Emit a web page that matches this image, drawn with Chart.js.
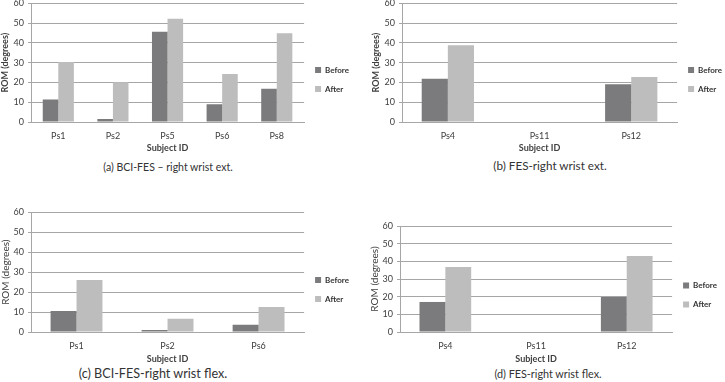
<!DOCTYPE html>
<html>
<head>
<meta charset="utf-8">
<script src="https://cdn.jsdelivr.net/npm/chart.js@4"></script>
<style>
  html, body { margin: 0; padding: 0; background: #fff; width: 725px; height: 382px; overflow: hidden; }
  .box { position: absolute; }
  .cap { position: absolute; font-family: Lato, sans-serif; color: #333; white-space: nowrap; line-height: 12px; transform: translateX(-50%); }
</style>
</head>
<body>
<div class="box" style="left:0px;top:-6px;width:364px;height:159px"><canvas id="chartA"></canvas></div>
<div class="box" style="left:371px;top:-6px;width:366px;height:159px"><canvas id="chartB"></canvas></div>
<div class="box" style="left:0px;top:203px;width:364px;height:161px"><canvas id="chartC"></canvas></div>
<div class="box" style="left:369px;top:203px;width:363px;height:161px"><canvas id="chartD"></canvas></div>
<div class="cap" style="left:168px;top:161px;font-size:10.5px">(a) BCI-FES – right wrist ext.</div>
<div class="cap" style="left:550px;top:159px;font-size:11.7px">(b) FES-right wrist ext.</div>
<div class="cap" style="left:153px;top:368px;font-size:12.6px">(c) BCI-FES-right wrist flex.</div>
<div class="cap" style="left:548px;top:368px;font-size:10.8px">(d) FES-right wrist flex.</div>
<script>
  // values (ROM in degrees)
  const labelsA = ['Ps1', 'Ps2', 'Ps5', 'Ps6', 'Ps8'];
  const beforeA = [11.4, 1.5, 45.6, 9.0, 16.8];
  const afterA = [30.3, 20.1, 52.2, 24.3, 44.9];

  const labelsB = ['Ps4', 'Ps11', 'Ps12'];
  const beforeB = [21.9, null, 19.1];
  const afterB = [38.8, null, 22.8];

  const labelsC = ['Ps1', 'Ps2', 'Ps6'];
  const beforeC = [10.5, 1.0, 3.6];
  const afterC = [26.1, 6.6, 12.6];

  const labelsD = ['Ps4', 'Ps11', 'Ps12'];
  const beforeD = [17.0, null, 19.8];
  const afterD = [36.8, null, 43.0];

  const yMin = 0, yMax = 60, yStep = 10;

  Chart.defaults.font.family = 'Lato, sans-serif';
  Chart.defaults.color = '#404040';

  function romChart(id, labels, before, after, padTop, xHeight, titleWeight, titleSize, legendPush) {
    new Chart(id, {
      type: 'bar',
      data: {
        labels: labels,
        datasets: [
          { label: 'Before', data: before, backgroundColor: '#7b7b7d' },
          { label: 'After', data: after, backgroundColor: '#bdbdbd' }
        ]
      },
      options: {
        responsive: true,
        maintainAspectRatio: false,
        animation: false,
        layout: { padding: { top: padTop, right: 5, bottom: 0, left: 0 } },
        datasets: { bar: { categoryPercentage: 0.57, barPercentage: 1.0 } },
        plugins: {
          tooltip: { enabled: false },
          legend: {
            position: 'right',
            // empty legend title only pushes the items down a little
            title: { display: legendPush > 0, text: '', font: { size: legendPush }, padding: 0 },
            labels: { boxWidth: 6, boxHeight: 6, padding: 11, font: { size: 8, weight: 'bold' }, color: '#333' }
          }
        },
        scales: {
          x: {
            grid: { display: false, drawTicks: false },
            border: { color: '#a6a6a6' },
            ticks: { font: { size: 9 }, padding: 9 },
            title: { display: true, text: 'Subject ID', font: { size: 9, weight: 'bold' }, padding: { top: 3, bottom: 0 } },
            afterFit: function(axis) { axis.height = xHeight; }
          },
          y: {
            min: yMin,
            max: yMax,
            ticks: { stepSize: yStep, font: { size: 9 }, padding: 4 },
            grid: { color: '#a6a6a6', tickLength: 3 },
            border: { color: '#a6a6a6' },
            title: { display: true, text: 'ROM (degrees)', font: { size: titleSize, weight: titleWeight }, padding: 0 },
            afterFit: function(axis) { axis.width = 31; }
          }
        }
      }
    });
  }

  romChart('chartA', labelsA, beforeA, afterA, 0, 31, 'bold', 9, 10);
  romChart('chartB', labelsB, beforeB, afterB, 0, 31, 'bold', 9, 10);
  romChart('chartC', labelsC, beforeC, afterC, 0, 32, 'normal', 10, 10);
  romChart('chartD', labelsD, beforeD, afterD, 23, 32, 'normal', 10, 0);
</script>
</body>
</html>
